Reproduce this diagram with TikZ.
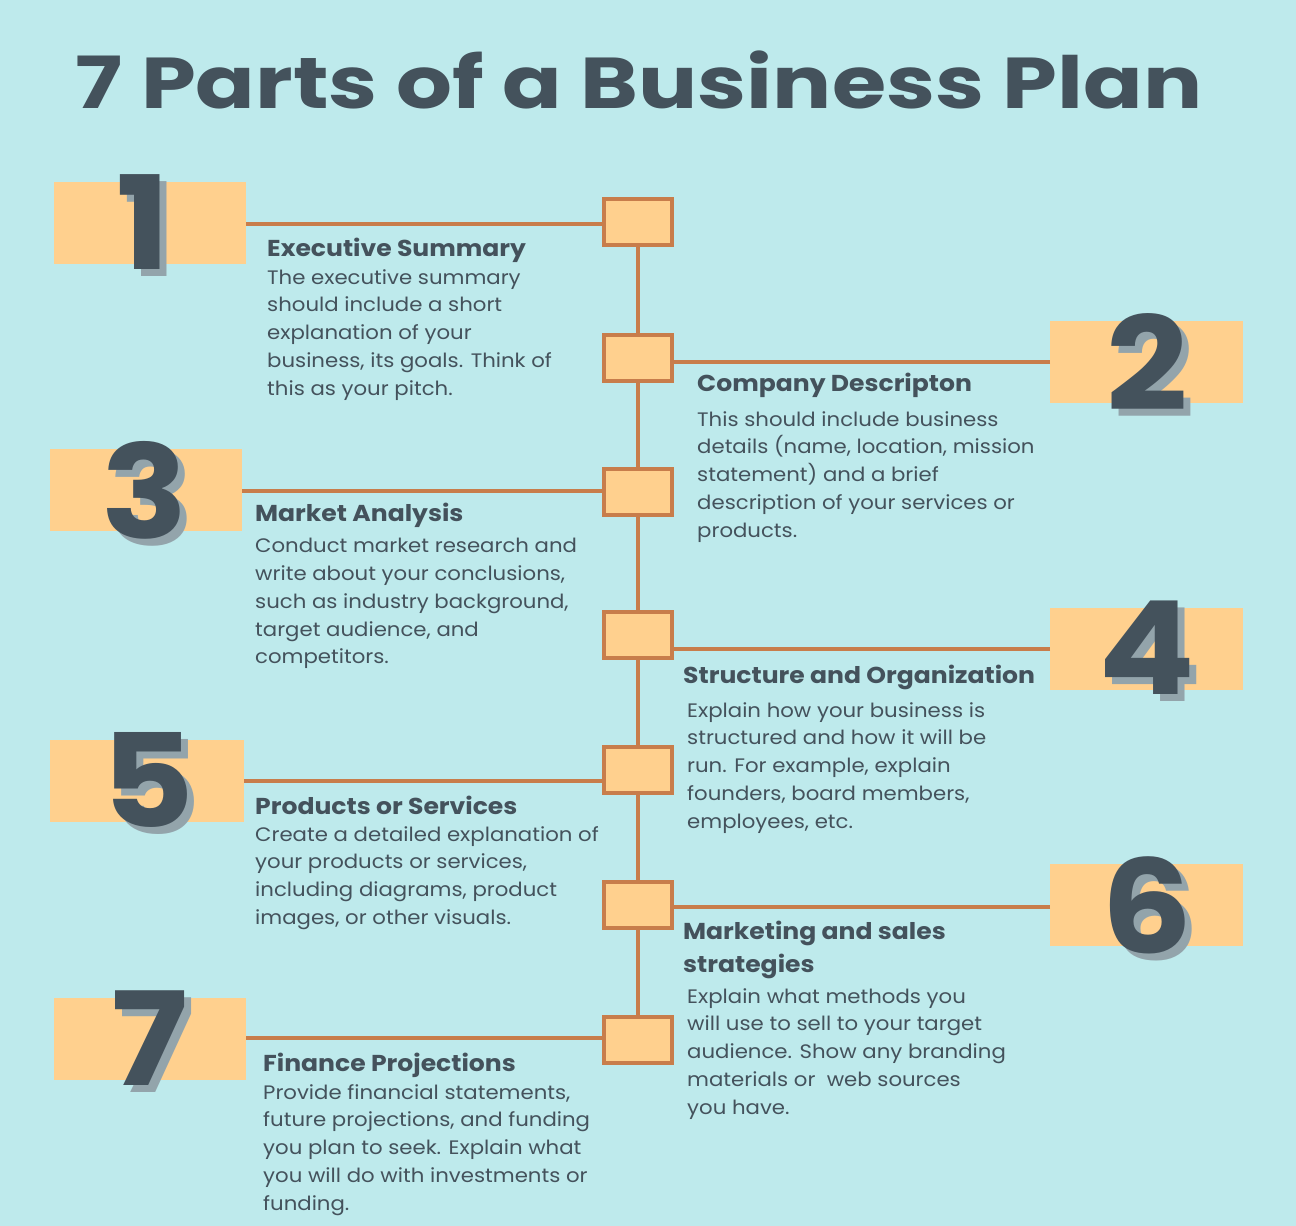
\documentclass[tikz,border=0pt]{standalone}
\usepackage{fontspec}
\setmainfont{Poppins}[FakeStretch=1.09]
\newfontfamily\titlefont{Poppins}[FakeStretch=1.22]
\newfontfamily\digfont{Poppins}[FakeStretch=1.1]
\definecolor{bg}{HTML}{BEEAEC}
\definecolor{box}{HTML}{FFD08E}
\definecolor{ln}{HTML}{C87D4B}
\definecolor{dk}{HTML}{44525C}
\definecolor{sh}{HTML}{93A4AB}
\begin{document}
\begin{tikzpicture}[x=1pt,y=-1pt,
  sq/.style={draw=ln,line width=4pt,fill=box,minimum width=68pt,minimum height=46pt,inner sep=0},
  conn/.style={draw=ln,line width=4pt},
  band/.style={fill=box},
  dig/.style={font=\digfont\fontsize{130}{130}\bfseries\selectfont,text=dk,inner sep=0},
  digs/.style={font=\digfont\fontsize{130}{130}\bfseries\selectfont,text=sh,inner sep=0},
  ttl/.style={anchor=north west,inner sep=0,text=dk,font=\fontsize{23}{33}\bfseries\selectfont,align=left},
  bod/.style={anchor=north west,inner sep=0,text=dk,font=\fontsize{19.5}{27.8}\selectfont,align=left}]
\fill[bg] (0,0) rectangle (1296,1226);
\useasboundingbox (0,0) rectangle (1296,1226);
\node[text=dk,font=\titlefont\fontsize{72}{72}\bfseries\selectfont] (title) at (639,80) {7 Parts of a Business Plan};
% bands
\fill[band] (54,182) rectangle (246,264);
\fill[band] (1050,321) rectangle (1243,403);
\fill[band] (50,449) rectangle (242,531);
\fill[band] (1050,608) rectangle (1243,690);
\fill[band] (50,740) rectangle (244,822);
\fill[band] (1050,864) rectangle (1243,946);
\fill[band] (54,998) rectangle (246,1080);
\coordinate (e1) at (246,224);
\coordinate (e2) at (1050,362);
\coordinate (e3) at (242,491);
\coordinate (e4) at (1050,649);
\coordinate (e5) at (244,781);
\coordinate (e6) at (1050,907);
\coordinate (e7) at (246,1038);
\coordinate (p1) at (638,222);
\coordinate (p2) at (638,358);
\coordinate (p3) at (638,492);
\coordinate (p4) at (638,635);
\coordinate (p5) at (638,770);
\coordinate (p6) at (638,905);
\coordinate (p7) at (638,1040);
\draw[conn] (p1) -- (p7);
\draw[conn] (e1) -- (e1 -| p1);
\draw[conn] (e2) -- (e2 -| p2);
\draw[conn] (e3) -- (e3 -| p3);
\draw[conn] (e4) -- (e4 -| p4);
\draw[conn] (e5) -- (e5 -| p5);
\draw[conn] (e6) -- (e6 -| p6);
\draw[conn] (e7) -- (e7 -| p7);
\foreach \i in {1,...,7}{\node[sq] (s\i) at (p\i) {};}
\foreach \n/\x/\y in {1/143/222,2/1147/362,3/145/490,4/1147/648,5/148/780,6/1147/905,7/150/1038}{
  \node[digs] (d\n s) at (\x+7,\y+7) {\n};
  \node[dig] (d\n) at (\x,\y) {\n};
}
\node[ttl] (t1) at (267,238) {Executive Summary};
\node[bod] (b1) at (267,269) {The executive summary\\should include a short\\explanation of your\\business, its goals. Think of\\this as your pitch.};
\node[ttl] (t2) at (697,373) {Company Descripton};
\node[bod] (b2) at (697,411) {This should include business\\details (name, location, mission\\statement) and a brief\\description of your services or\\products.};
\node[ttl] (t3) at (255,503) {Market Analysis};
\node[bod] (b3) at (255,538) {Conduct market research and\\write about your conclusions,\\such as industry background,\\target audience, and\\competitors.};
\node[ttl] (t4) at (683,665) {Structure and Organization};
\node[bod] (b4) at (687,702) {Explain how your business is\\structured and how it will be\\run. For example, explain\\founders, board members,\\employees, etc.};
\node[ttl] (t5) at (255,796) {Products or Services};
\node[bod] (b5) at (255,826) {Create a detailed explanation of\\your products or services,\\including diagrams, product\\images, or other visuals.};
\node[ttl] (t6) at (683,921) {Marketing and sales\\strategies};
\node[bod] (b6) at (687,988) {Explain what methods you\\will use to sell to your target\\audience. Show any branding\\materials or\ \ web sources\\you have.};
\node[ttl] (t7) at (263,1053) {Finance Projections};
\node[bod] (b7) at (263,1084) {Provide financial statements,\\future projections, and funding\\you plan to seek. Explain what\\you will do with investments or\\funding.};
\end{tikzpicture}
\end{document}
